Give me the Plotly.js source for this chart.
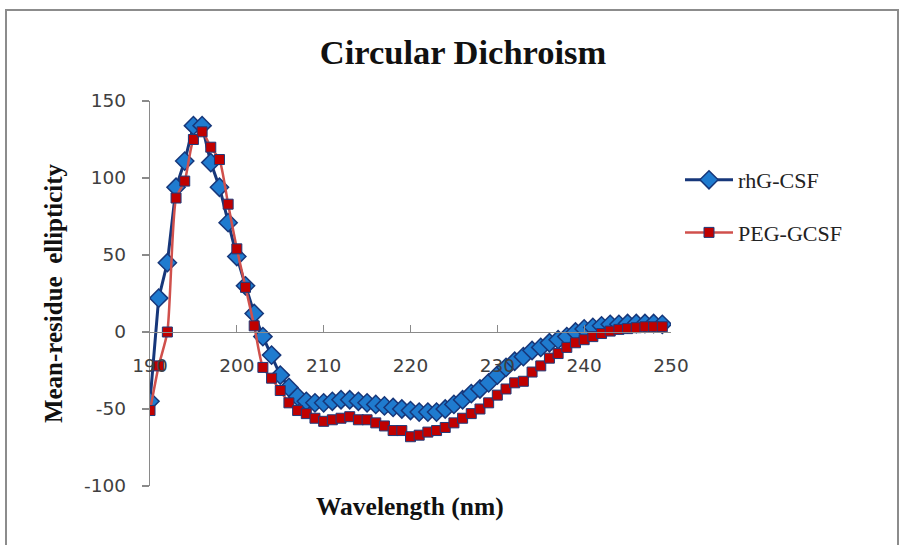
<!DOCTYPE html>
<html>
<head>
<meta charset="utf-8">
<script src="https://cdn.plot.ly/plotly-3.0.1.min.js"></script>
<style>html,body{margin:0;padding:0;background:#fff;}#chart{width:906px;height:545px;}</style>
</head>
<body>
<div id="chart"></div>
<script>
// Wavelength (nm)
var wavelength = [190,191,192,193,194,195,196,197,198,199,
                  200,201,202,203,204,205,206,207,208,209,
                  210,211,212,213,214,215,216,217,218,219,
                  220,221,222,223,224,225,226,227,228,229,
                  230,231,232,233,234,235,236,237,238,239,
                  240,241,242,243,244,245,246,247,248,249];
// rhG-CSF mean-residue ellipticity
var rhGCSF = [-45,22,45,94,111,134,134,110,94,71,
              49,30,12,-3,-15,-28,-36,-42,-45,-46,
              -46,-45,-44,-44,-45,-46,-47,-48,-49,-50,
              -51,-52,-52,-52,-50,-47,-44,-40,-37,-33,
              -28,-23,-19,-16,-12,-10,-7,-5,-3,0,
              2,3,4,5,5,5.5,5.5,5.5,5.5,5];
// PEG-GCSF mean-residue ellipticity
var pegGCSF = [-51,-22,0,87,98,125,130,120,112,83,
               54,29,4,-23,-30,-38,-46,-51,-53,-56,
               -58,-57,-56,-55,-57,-57,-59,-61,-64,-64,
               -68,-67,-65,-64,-62,-59,-56,-53,-50,-46,
               -41,-37,-33,-32,-26,-22,-17,-14,-10,-7,
               -5,-3,-1,0.6,1.7,2.2,2.8,3.4,3.4,3.4];
var seriesNames = ["rhG-CSF","PEG-GCSF"];
var xTicks = [190,200,210,220,230,240,250];
var yTicks = [-100,-50,0,50,100,150];

var traces = [
  {x: wavelength, y: rhGCSF, name: seriesNames[0], type: "scatter", mode: "lines+markers",
   legendgroup: "a",
   line: {color: "#17377A", width: 3},
   marker: {symbol: "diamond", size: 14, color: "#1F7BCF", line: {color: "#17377A", width: 1.5}}},
  {x: wavelength, y: pegGCSF, name: seriesNames[1], type: "scatter", mode: "lines+markers",
   legendgroup: "b",
   line: {color: "#D0504C", width: 2.5, shape: "spline", smoothing: 0.6},
   marker: {symbol: "square", size: 10, color: "#C00000", line: {color: "#1F3A7A", width: 1}}}
];

var pxL = 150, pxR = 671, pxT = 101, pxB = 486;
function px2paperX(p){ return (p - pxL) / (pxR - pxL); }
function px2paperY(p){ return (pxB - p) / (pxB - pxT); }

var layout = {
  width: 906, height: 545,
  paper_bgcolor: "#ffffff", plot_bgcolor: "#ffffff",
  margin: {l: pxL, r: 906 - pxR, t: pxT, b: 545 - pxB, pad: 0},
  title: {text: "<b>Circular Dichroism</b>", font: {family: "Liberation Serif", size: 34.5, color: "#111"},
          xref: "container", yref: "container", x: 463/906, y: 1 - 52/545, xanchor: "center", yanchor: "middle"},
  xaxis: {range: [190, 250], tickvals: xTicks, ticktext: xTicks.map(String),
          anchor: "free", position: 0.4, showgrid: false, zeroline: false,
          showline: true, linecolor: "#8A8A8A", linewidth: 1.3,
          ticks: "inside", ticklen: 7, tickcolor: "#8A8A8A", tickwidth: 1.3,
          ticklabelstandoff: 16,
          tickfont: {family: "DejaVu Sans", size: 18.5, color: "#404040"}},
  yaxis: {range: [-100, 150], tickvals: yTicks, ticktext: yTicks.map(String),
          showgrid: false, zeroline: false, showline: true, linecolor: "#8A8A8A", linewidth: 1.3,
          ticks: "outside", ticklen: 7, tickcolor: "#8A8A8A", tickwidth: 1.3,
          ticklabelstandoff: 12,
          tickfont: {family: "DejaVu Sans", size: 18.5, color: "#404040"},
          title: {text: "<b>Mean-residue  ellipticity</b>", standoff: 14,
                  font: {family: "Liberation Serif", size: 25, color: "#111"}}},
  showlegend: true,
  legend: {x: px2paperX(680), y: px2paperY(159), xanchor: "left", yanchor: "top",
           bgcolor: "rgba(0,0,0,0)", tracegroupgap: 21, itemwidth: 48,
           font: {family: "Liberation Serif", size: 22, color: "#222"}},
  annotations: [
    {text: "<b>Wavelength (nm)</b>", xref: "paper", yref: "paper",
     x: px2paperX(410), y: px2paperY(507), xanchor: "center", yanchor: "middle", showarrow: false,
     font: {family: "Liberation Serif", size: 25.5, color: "#111"}}
  ],
  shapes: [
    {type: "rect", xref: "paper", yref: "paper", layer: "below",
     x0: px2paperX(6), x1: px2paperX(898), y0: px2paperY(560), y1: px2paperY(10),
     line: {color: "#8C8C8C", width: 2}}
  ]
};

Plotly.newPlot("chart", traces, layout, {displayModeBar: false, staticPlot: true});
</script>
</body>
</html>
